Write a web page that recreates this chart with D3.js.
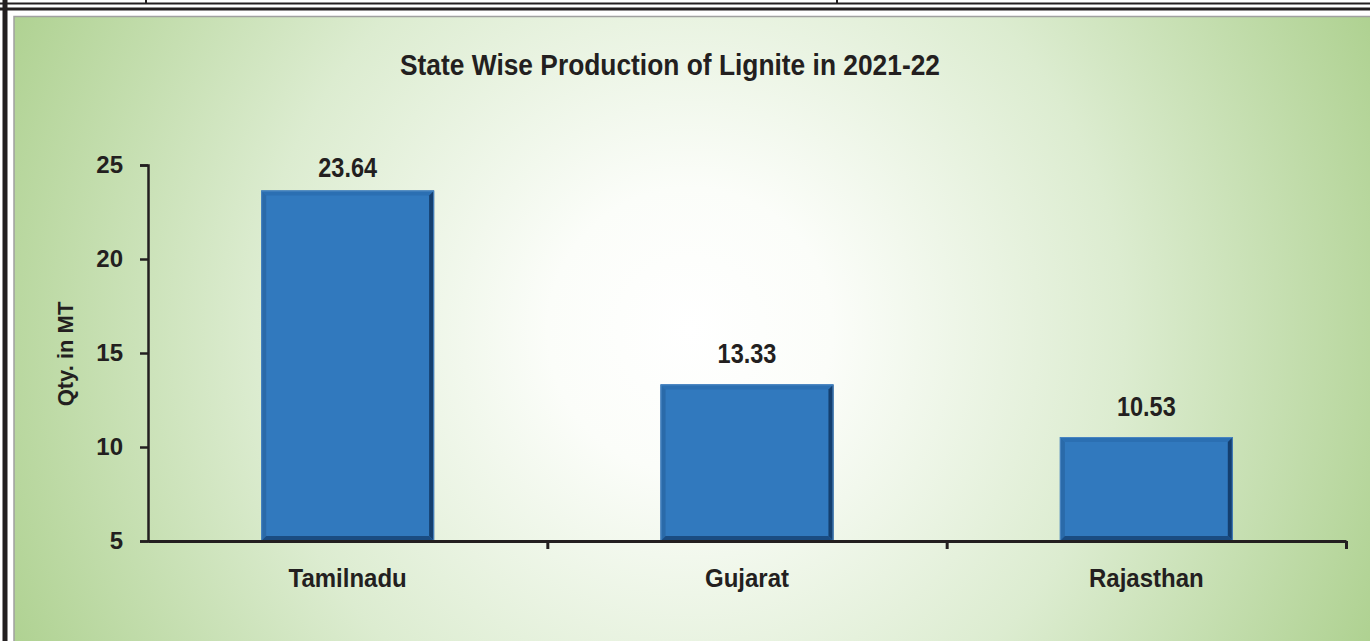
<!DOCTYPE html>
<html>
<head>
<meta charset="utf-8">
<script src="https://cdn.jsdelivr.net/npm/d3@7"></script>
<style>
  body { margin: 0; background: #fff; }
  svg { display: block; }
  text { font-family: "Liberation Sans", Arial, sans-serif; font-weight: bold; fill: #231f20; }
</style>
</head>
<body>
<div id="chart"></div>
<script>
// chart data
var states = ["Tamilnadu", "Gujarat", "Rajasthan"];
var production = [23.64, 13.33, 10.53];
var yTicks = [5, 10, 15, 20, 25];
var chartTitle = "State Wise Production of Lignite in 2021-22";
var yTitle = "Qty. in MT";

var width = 1370, height = 641;

var svg = d3.select("#chart").append("svg")
    .attr("width", width)
    .attr("height", height);

var defs = svg.append("defs");

// background: light centre fading to green at the edges
var bg = defs.append("radialGradient")
    .attr("id", "bgGrad")
    .attr("gradientUnits", "userSpaceOnUse")
    .attr("cx", 690).attr("cy", 330).attr("r", 790);
bg.append("stop").attr("offset", 0).attr("stop-color", "#ffffff");
bg.append("stop").attr("offset", 0.18).attr("stop-color", "#fbfdf9");
bg.append("stop").attr("offset", 0.55).attr("stop-color", "#dcecd0");
bg.append("stop").attr("offset", 1).attr("stop-color", "#a9ce89");

// page frame (table lines of the source document)
var frame = svg.append("g").attr("stroke", "#231f20");
frame.append("line").attr("x1", 0).attr("x2", width).attr("y1", 3.5).attr("y2", 3.5).attr("stroke-width", 2);
frame.append("line").attr("x1", 0).attr("x2", width).attr("y1", 9).attr("y2", 9).attr("stroke-width", 3);
frame.append("line").attr("x1", 146).attr("x2", 146).attr("y1", 0).attr("y2", 4).attr("stroke-width", 2);
frame.append("line").attr("x1", 837).attr("x2", 837).attr("y1", 0).attr("y2", 4).attr("stroke-width", 2);
frame.append("line").attr("x1", 5).attr("x2", 5).attr("y1", 0).attr("y2", height).attr("stroke-width", 5);

// chart area
svg.append("rect")
    .attr("x", 14).attr("y", 16.5)
    .attr("width", width).attr("height", height)
    .attr("fill", "url(#bgGrad)")
    .attr("stroke", "#a0a0a0")
    .attr("stroke-width", 1.5);

// scales
var x = d3.scaleBand()
    .domain(states)
    .range([148, 1346])
    .paddingInner(0.567)
    .paddingOuter(0.2835);

var y = d3.scaleLinear()
    .domain([5, 25])
    .range([541, 165]);

// title
svg.append("text")
    .attr("x", 670).attr("y", 75)
    .attr("text-anchor", "middle")
    .attr("font-size", 30)
    .attr("textLength", 540)
    .attr("lengthAdjust", "spacingAndGlyphs")
    .text(chartTitle);

// y axis title
svg.append("text")
    .attr("transform", "translate(73,354) rotate(-90)")
    .attr("text-anchor", "middle")
    .attr("font-size", 22)
    .text(yTitle);

// bars with a bevelled look
var bev = 5;
var bars = svg.append("g").selectAll("g.bar")
    .data(production)
    .enter().append("g")
    .attr("class", "bar");

bars.each(function(d, i) {
    var g = d3.select(this);
    var x0 = x(states[i]), x1 = x0 + x.bandwidth();
    var y0 = y(d), y1 = y(5);
    g.append("rect")
        .attr("x", x0).attr("y", y0)
        .attr("width", x1 - x0).attr("height", y1 - y0)
        .attr("fill", "#3179be");
    var faces = [
        {pts: [[x0, y0], [x1, y0], [x1 - bev, y0 + bev], [x0 + bev, y0 + bev]], c: "#2b6fb2"},
        {pts: [[x0, y0], [x0 + bev, y0 + bev], [x0 + bev, y1 - bev], [x0, y1]], c: "#2a6aa9"},
        {pts: [[x1, y0], [x1, y1], [x1 - bev, y1 - bev], [x1 - bev, y0 + bev]], c: "#143f6f"},
        {pts: [[x0, y1], [x0 + bev, y1 - bev], [x1 - bev, y1 - bev], [x1, y1]], c: "#1a4c82"}
    ];
    faces.forEach(function(f) {
        g.append("polygon")
            .attr("points", f.pts.map(function(p) { return p.join(","); }).join(" "))
            .attr("fill", f.c);
    });
    g.append("rect")
        .attr("x", x0 + 0.5).attr("y", y0 + 0.5)
        .attr("width", x1 - x0 - 1).attr("height", y1 - y0 - 1)
        .attr("fill", "none")
        .attr("stroke", "#4a86c2")
        .attr("stroke-width", 1);
});

// value labels
svg.append("g").selectAll("text")
    .data(production)
    .enter().append("text")
    .attr("text-anchor", "middle")
    .attr("font-size", 28)
    .attr("transform", function(d, i) {
        var cx = x(states[i]) + x.bandwidth() / 2;
        var by = Math.max(y(d) - 21, 177);
        return "translate(" + cx + "," + by + ") scale(0.84,1)";
    })
    .text(function(d) { return d.toFixed(2); });

// y axis
var yAxis = svg.append("g")
    .attr("transform", "translate(148,0)")
    .call(d3.axisLeft(y).tickValues(yTicks).tickSize(8).tickPadding(17));
yAxis.selectAll("path, line").attr("stroke", "#231f20").attr("stroke-width", 2.5);
yAxis.selectAll("text")
    .attr("font-size", 24)
    .attr("font-family", "Liberation Sans, Arial, sans-serif")
    .attr("fill", "#231f20");

// x axis: category labels
var xAxis = svg.append("g")
    .attr("transform", "translate(0,541)")
    .call(d3.axisBottom(x).tickSize(0).tickPadding(28));
xAxis.select(".domain").attr("stroke", "#231f20").attr("stroke-width", 3);
xAxis.selectAll("text")
    .attr("font-size", 25)
    .attr("font-family", "Liberation Sans, Arial, sans-serif")
    .attr("fill", "#231f20")
    .attr("transform", "scale(0.96,1)");

// x axis: tick marks between categories
var xb = d3.scaleLinear().domain([0, states.length]).range([148, 1346]);
var xTicks = svg.append("g")
    .attr("transform", "translate(0,541)")
    .call(d3.axisBottom(xb).tickValues([1, 2, 3]).tickFormat("").tickSizeInner(8).tickSizeOuter(0));
xTicks.select(".domain").remove();
xTicks.selectAll("line").attr("stroke", "#231f20").attr("stroke-width", 3);
</script>
</body>
</html>
